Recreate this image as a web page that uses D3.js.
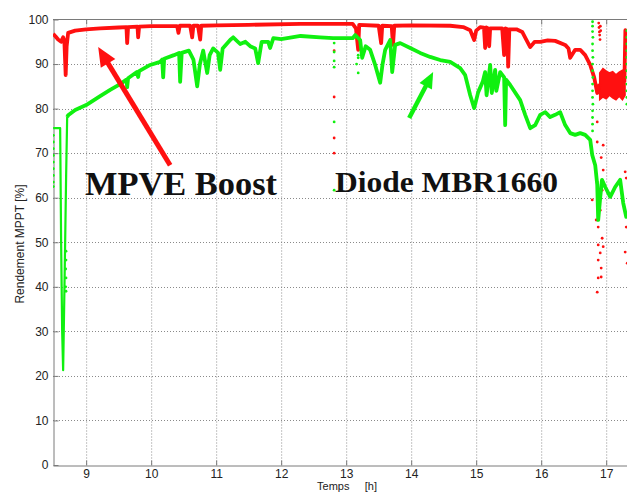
<!DOCTYPE html>
<html><head><meta charset="utf-8">
<script src="https://cdn.jsdelivr.net/npm/d3@7"></script>
<style>body{margin:0;background:#fff;} svg{display:block;}</style>
</head><body><svg id="c" width="627" height="492"></svg>
<script>
// ---------- data (hours, efficiency %) ----------
const xTicks = [9,10,11,12,13,14,15,16,17];
const yTicks = [0,10,20,30,40,50,60,70,80,90,100];
const xLabel = "Temps     [h]";
const yLabel = "Rendement MPPT [%]";
const seriesNames = ["MPVE Boost","Diode MBR1660"];

const redMain = [[8.492,96.8],[8.53,96.2],[8.569,95.5],[8.615,95.0],[8.646,96.0],[8.665,95.2],[8.685,87.5],[8.70,94.0],[8.723,97.0],[8.831,97.5],[9.0,97.8],[9.215,98.0],[9.50,98.2],[9.62,98.3],[9.631,94.7],[9.645,98.3],[9.79,98.4],[9.80,96.0],[9.815,98.4],[10.0,98.5],[10.4,98.5],[10.42,97.0],[10.44,98.6],[10.6,98.6],[10.631,96.0],[10.65,98.6],[10.72,98.6],[10.754,95.5],[10.77,98.6],[11.0,98.7],[11.5,98.8],[12.3,99.0],[13.1,99.0],[13.15,98.0],[13.185,93.2],[13.2,98.8],[13.5,98.6],[13.538,94.7],[13.555,98.6],[13.70,98.5],[13.72,94.3],[13.74,98.6],[14.0,98.7],[14.6,98.6],[14.8,98.3],[14.908,97.6],[14.969,95.4],[15.0,97.5],[15.062,98.3],[15.12,98.2],[15.138,93.6],[15.155,98.2],[15.185,98.0],[15.2,94.0],[15.215,98.0],[15.40,98.0],[15.43,92.0],[15.45,98.0],[15.48,97.8],[15.492,89.4],[15.51,97.8],[15.62,97.8],[15.708,97.2],[15.77,95.5],[15.831,93.8],[15.9,95.0],[15.985,95.0],[16.1,95.3],[16.215,95.2],[16.369,94.3],[16.42,93.5],[16.446,91.4],[16.523,93.2],[16.6,93.2],[16.677,92.0],[16.754,89.8],[16.815,87.0],[16.862,83.5],[16.9,85.5]];
const redEdge = [[17.28,86.0],[17.295,97.6],[17.33,96.5]];
const redBandT  = [16.90,16.95,17.0,17.05,17.1,17.15,17.2,17.25,17.29];
const redBandHi = [88.0,89.0,88.4,88.0,88.3,87.6,88.2,88.6,88.0];
const redBandLo = [82.0,82.6,82.2,83.0,82.4,82.0,82.8,82.0,83.0];
const redOutliers = [[12.815,93.0],[12.815,82.6],[12.815,73.4],[12.815,70.0],
 [16.885,99.2],[16.89,98.2],[16.895,97.2],[16.9,96.5],[16.905,95.5],[16.91,98.5],[16.915,97.5],
 [16.862,77],[16.862,72.5],[16.954,71.8],[16.923,69],[16.954,66.2],[16.862,63.5],[16.938,61.7],[16.877,59.5],[16.908,57.2],[16.846,55],[16.877,53.4],[16.938,50.9],[16.877,49.4],[16.908,47.6],[16.954,49],[16.877,46],[16.923,44.2],[16.877,42],[16.923,42.2],[16.862,38.8],[16.785,59.5],
 [17.292,65.8],[17.308,64.4],[17.308,53.4],[17.292,47.8],[17.323,45.3]];

const greenStart = [[8.492,75.6],[8.60,75.6],[8.615,50],[8.631,30],[8.646,21.3],[8.661,35],[8.677,50],[8.692,65],[8.708,78.1]];
const greenMain = [[8.708,78.1],[8.723,78.5],[8.831,79.7],[9.0,80.8],[9.215,82.8],[9.369,84.2],[9.523,85.5],[9.62,86.5],[9.631,84.8],[9.645,86.8],[9.78,88.2],[9.80,87.1],[9.815,88.4],[9.985,89.8],[10.138,90.5],[10.17,91.0],[10.185,87.0],[10.20,91.2],[10.35,92.0],[10.43,92.5],[10.446,86.0],[10.47,92.5],[10.58,93.0],[10.65,91.0],[10.708,85.0],[10.75,90.0],[10.80,93.0],[10.862,88.0],[10.90,92.0],[10.954,93.5],[11.03,92.5],[11.062,88.7],[11.10,93.5],[11.215,95.4],[11.262,96.0],[11.369,94.5],[11.45,95.0],[11.523,94.0],[11.60,93.5],[11.646,90.2],[11.70,95.0],[11.80,95.0],[11.83,93.6],[11.88,95.8],[12.0,95.6],[12.3,96.3],[12.6,96.0],[12.8,95.8],[13.1,95.8],[13.138,96.5],[13.215,95.4],[13.246,91.4],[13.30,94.0],[13.369,93.2],[13.446,89.8],[13.523,85.8],[13.56,90.0],[13.600,93.2],[13.677,95.4],[13.708,88.2],[13.754,94.3],[13.831,94.7],[13.985,93.6],[14.138,92.5],[14.292,91.6],[14.446,90.9],[14.600,90.5],[14.754,89.1],[14.831,87.5],[14.908,83.0],[14.969,80.1],[15.031,83.7],[15.10,86.0],[15.138,88.2],[15.16,83.0],[15.215,89.8],[15.24,83.5],[15.292,88.7],[15.31,84.0],[15.369,88.2],[15.43,87.0],[15.446,76.3],[15.46,86.5],[15.523,85.3],[15.677,81.9],[15.754,78.6],[15.831,75.6],[15.908,76.3],[15.985,78.6],[16.062,79.2],[16.138,78.1],[16.215,78.6],[16.292,79.2],[16.369,76.3],[16.446,74.5],[16.523,74.1],[16.600,74.5],[16.677,74.1],[16.754,73.0],[16.785,69.6],[16.831,67.3],[16.862,62.9],[16.877,55.0],[16.908,60.0],[16.935,64.0],[16.985,62.4],[17.062,60.2],[17.138,62.4],[17.215,64.0],[17.262,58.8],[17.308,55.7],[17.33,56.0]];
const greenOutliers = [[12.815,94.7],[12.815,92.7],[12.815,90.7],[12.815,89.3],[12.815,77.0],[12.815,61.7],[13.185,92.0],[13.185,91.4],[13.185,88.0],[13.16,90.0],
 [16.79,99.5],[16.79,98.5],[16.79,97.3],[16.795,96],[16.79,94.5],[16.79,93],[16.795,91.5],[16.79,90],[16.79,88.5],[16.795,87],[16.79,85.5],[16.79,84],[16.79,82.5],[16.795,81],[16.79,79.5],[16.79,78],[16.79,76.5],[16.79,75],
 [17.318,97.5],[17.318,96],[17.318,94.5],[17.318,93],[17.318,91.5],[17.318,90],[17.318,88.5],[17.318,87],[17.318,85.5],[17.318,84],[17.318,82.5],[17.318,81],
 [8.495,74],[8.495,72.5],[8.495,71],[8.495,69.5],[8.495,68],[8.495,66.5],[8.495,65],[8.495,63.5],[8.495,62.5],
 [8.69,48],[8.69,46],[8.685,44],[8.69,42],[8.685,40],[8.69,39]];

// annotation arrows (tail, head) in data coordinates
const redArrow = [[10.292,67.3],[9.185,93.8]];
const greenArrow = [[13.969,77.9],[14.338,88.2]];

// ---------- drawing ----------
const svg = d3.select("#c");
const x = d3.scaleLinear().domain([8.49,17.5]).range([53,638.7]);
const y = d3.scaleLinear().domain([0,100]).range([465,19.5]);
const axisColor = "#7a7a7a";
const font = "'Liberation Sans', Arial, sans-serif";

svg.append("rect").attr("width",627).attr("height",492).attr("fill","#fff");
svg.append("defs").append("clipPath").attr("id","clip").append("rect")
  .attr("x",53).attr("y",17).attr("width",600).attr("height",450);

// grid
const grid = svg.append("g").attr("stroke","#8a8a8a").attr("stroke-width",1).attr("stroke-dasharray","1,2");
grid.selectAll(".gx").data(xTicks).join("line")
  .attr("x1",d=>x(d)+0.5).attr("x2",d=>x(d)+0.5).attr("y1",y(100)).attr("y2",y(0));
grid.selectAll(".gy").data(yTicks.filter(d=>d>0&&d<100)).join("line")
  .attr("x1",x.range()[0]).attr("x2",627).attr("y1",d=>Math.round(y(d))+0.5).attr("y2",d=>Math.round(y(d))+0.5);

// axes
const gy = svg.append("g").attr("transform","translate(53.5,0)")
  .call(d3.axisLeft(y).tickValues(yTicks).tickSizeInner(-5).tickSizeOuter(0).tickPadding(5));
const gx = svg.append("g").attr("transform","translate(0,465.5)")
  .call(d3.axisBottom(x).tickValues(xTicks).tickSizeInner(-5).tickSizeOuter(0).tickPadding(4));
[gx,gy].forEach(g=>{
  g.selectAll("path,line").attr("stroke",axisColor);
  g.selectAll("text").attr("font-family",font).attr("font-size",12).attr("fill","#222");
});
// top frame with ticks
svg.append("line").attr("x1",53).attr("x2",627).attr("y1",19.5).attr("y2",19.5).attr("stroke",axisColor);
svg.append("g").selectAll("line").data(xTicks).join("line")
  .attr("x1",d=>x(d)+0.5).attr("x2",d=>x(d)+0.5).attr("y1",19.5).attr("y2",24.5).attr("stroke",axisColor);

// axis titles
svg.append("text").attr("x",347).attr("y",490).attr("text-anchor","middle")
  .attr("font-family",font).attr("font-size",11).attr("fill","#222")
  .style("white-space","pre").text(xLabel);
svg.append("text").attr("transform","translate(24,244) rotate(-90)").attr("text-anchor","middle")
  .attr("font-family",font).attr("font-size",12).attr("fill","#222").text(yLabel);

// data
const plot = svg.append("g").attr("clip-path","url(#clip)");
const line = d3.line().x(d=>x(d[0])).y(d=>y(d[1]));
const red = "#ff1010", green = "#10f010";

plot.append("path").datum(redBandT.map((t,i)=>[t,redBandHi[i],redBandLo[i]]))
  .attr("d",d3.area().x(d=>x(d[0])).y0(d=>y(d[2])).y1(d=>y(d[1])))
  .attr("fill",red).attr("stroke",red).attr("stroke-width",1.5);
[redMain, redEdge].forEach(s=>plot.append("path").datum(s).attr("d",line).attr("fill","none")
  .attr("stroke",red).attr("stroke-width",3.8).attr("stroke-linejoin","round"));
plot.selectAll(".ro").data(redOutliers).join("circle")
  .attr("cx",d=>x(d[0])).attr("cy",d=>y(d[1])).attr("r",1.4).attr("fill",red);

plot.append("path").datum(greenStart).attr("d",line).attr("fill","none")
  .attr("stroke",green).attr("stroke-width",2.2).attr("stroke-linejoin","round");
plot.append("path").datum(greenMain).attr("d",line).attr("fill","none")
  .attr("stroke",green).attr("stroke-width",3.8).attr("stroke-linejoin","round");
plot.selectAll(".go").data(greenOutliers).join("circle")
  .attr("cx",d=>x(d[0])).attr("cy",d=>y(d[1])).attr("r",1.4).attr("fill",green);

// arrows
function arrow(a, color, lw, hl, hw){
  const x1=x(a[0][0]), y1=y(a[0][1]), x2=x(a[1][0]), y2=y(a[1][1]);
  const dx=x2-x1, dy=y2-y1, L=Math.hypot(dx,dy), ux=dx/L, uy=dy/L;
  const bx=x2-ux*hl, by=y2-uy*hl;
  svg.append("line").attr("x1",x1).attr("y1",y1).attr("x2",bx+ux*2).attr("y2",by+uy*2)
    .attr("stroke",color).attr("stroke-width",lw);
  svg.append("polygon").attr("fill",color)
    .attr("points",[[x2,y2],[bx-uy*hw/2,by+ux*hw/2],[bx+uy*hw/2,by-ux*hw/2]].map(p=>p.join(",")).join(" "));
}
arrow(redArrow, red, 5, 19, 17);
arrow(greenArrow, green, 4.5, 16, 14);

// labels
const serif = "'Liberation Serif','Times New Roman',serif";
svg.append("text").attr("x",85).attr("y",195).attr("font-family",serif).attr("font-weight","bold")
  .attr("font-size",34).attr("fill","#111").attr("textLength",192).attr("lengthAdjust","spacingAndGlyphs")
  .text(seriesNames[0]);
svg.append("text").attr("x",335).attr("y",192).attr("font-family",serif).attr("font-weight","bold")
  .attr("font-size",30).attr("fill","#111").attr("textLength",223).attr("lengthAdjust","spacingAndGlyphs")
  .text(seriesNames[1]);
</script></body></html>
